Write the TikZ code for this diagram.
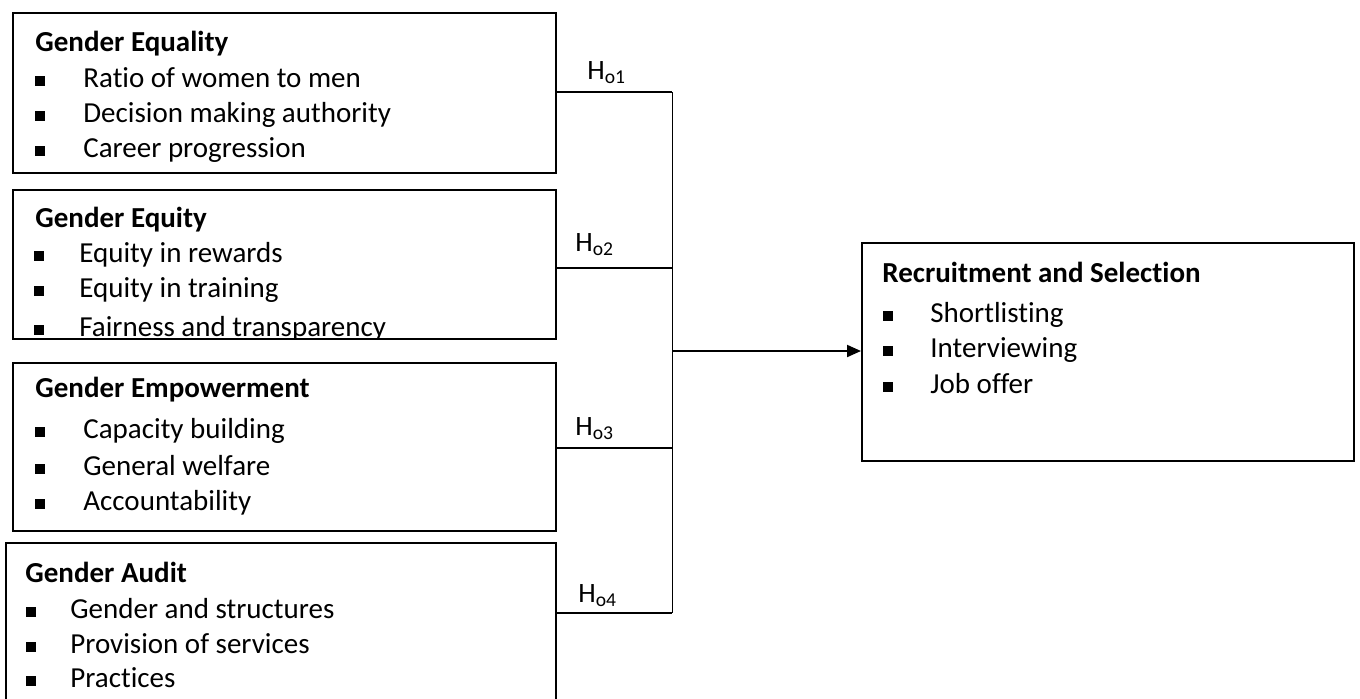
\documentclass[tikz,border=0pt]{standalone}
\usepackage{fontspec}
\setmainfont{Carlito}[Ligatures=NoCommon]
\usetikzlibrary{arrows.meta}
\begin{document}
\begin{tikzpicture}[x=0.5pt,y=-0.5pt,
  box/.style={draw,line width=1.1pt,inner sep=0pt,anchor=north west},
  ttl/.style={anchor=base west,inner sep=0pt,font=\fontsize{14.5}{17}\selectfont\bfseries},
  itm/.style={anchor=base west,inner sep=0pt,font=\fontsize{14.5}{17}\selectfont},
  hyp/.style={anchor=base west,inner sep=0pt,font=\fontsize{14}{17}\selectfont},
  link/.style={line width=1pt},
  spine/.style={line width=0.5pt}]
\useasboundingbox (0,0) rectangle (1360,698);
% boxes
\node[box,minimum width=271.5pt,minimum height=80pt] (b1) at (12,12) {};
\node[box,minimum width=271.5pt,minimum height=74.5pt] (b2) at (12,189) {};
\node[box,minimum width=271.5pt,minimum height=84pt] (b3) at (12,362) {};
\node[box,minimum width=275pt,minimum height=84pt] (b4) at (5,542) {};
\node[box,minimum width=246pt,minimum height=109pt] (br) at (861,242) {};
% box 1
\node[ttl] (t1) at (35,51) {Gender Equality};
\fill (35,86) rectangle (45,76);
\node[itm] (i11) at (83,87) {Ratio of women to men};
\fill (35,121) rectangle (45,111);
\node[itm] (i12) at (83,122) {Decision making authority};
\fill (35,156) rectangle (45,146);
\node[itm] (i13) at (83,157) {Career progression};
% box 2
\begin{scope}
\clip (12,189) rectangle (555,337);
\node[ttl] (t2) at (35,227) {Gender Equity};
\fill (34,261) rectangle (44,251);
\node[itm] (i21) at (79,262) {Equity in rewards};
\fill (34,296) rectangle (44,286);
\node[itm] (i22) at (79,297) {Equity in training};
\fill (34,335) rectangle (44,325);
\node[itm] (i23) at (79,336) {Fairness and transparency};
\end{scope}
% box 3
\node[ttl] (t3) at (35,397) {Gender Empowerment};
\fill (35,437) rectangle (45,427);
\node[itm] (i31) at (83,438) {Capacity building};
\fill (35,474) rectangle (45,464);
\node[itm] (i32) at (83,475) {General welfare};
\fill (35,509) rectangle (45,499);
\node[itm] (i33) at (83,510) {Accountability};
% box 4
\node[ttl] (t4) at (25,582) {Gender Audit};
\fill (26,617) rectangle (36,607);
\node[itm] (i41) at (70,618) {Gender and structures};
\fill (26,652) rectangle (36,642);
\node[itm] (i42) at (70,653) {Provision of services};
\fill (26,686) rectangle (36,676);
\node[itm] (i43) at (70,687) {Practices};
% right box
\node[ttl] (tr) at (882,282) {Recruitment and Selection};
\fill (883,321) rectangle (893,311);
\node[itm] (ir1) at (930,322) {Shortlisting};
\fill (883,356) rectangle (893,346);
\node[itm] (ir2) at (930,357) {Interviewing};
\fill (883,392) rectangle (893,382);
\node[itm] (ir3) at (930,393) {Job offer};
% hypotheses labels
\node[hyp] (h1l) at (587,79) {H\textsubscript{o1}};
\node[hyp] (h2l) at (575,251) {H\textsubscript{o2}};
\node[hyp] (h3l) at (575,435) {H\textsubscript{o3}};
\node[hyp] (h4l) at (578,602) {H\textsubscript{o4}};
% connectors
\coordinate (h1) at (672,92);
\coordinate (h2) at (672,268);
\coordinate (h3) at (672,448);
\coordinate (h4) at (672,613);
\coordinate (jm) at (672,351);
\draw[link] (b1.east |- h1) -- (h1);
\draw[link] (b2.east |- h2) -- (h2);
\draw[link] (b3.east |- h3) -- (h3);
\draw[link] (b4.east |- h4) -- (h4);
\draw[spine] (h1) -- (h4);
\draw[link,-{Triangle[length=7pt,width=6pt]}] (jm) -- (br.west |- jm);
\end{tikzpicture}
\end{document}
